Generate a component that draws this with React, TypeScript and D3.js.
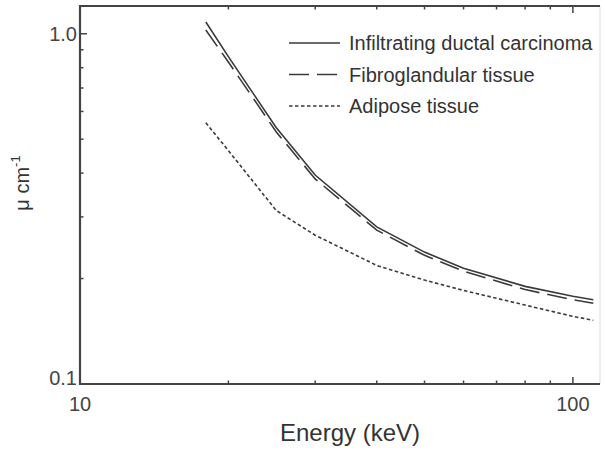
import React from "react";
import { scaleLog, line as d3line, curveLinear } from "d3";

const energies = [18, 20, 25, 30, 40, 50, 60, 80, 100, 110];
const carcinoma = [1.08, 0.86, 0.54, 0.395, 0.281, 0.238, 0.214, 0.19, 0.178, 0.174];
const fibroglandular = [1.025, 0.83, 0.525, 0.385, 0.275, 0.233, 0.21, 0.186, 0.174, 0.17];
const adipose = [0.557, 0.464, 0.313, 0.266, 0.218, 0.198, 0.185, 0.168, 0.156, 0.152];

const seriesNames = ["Infiltrating ductal carcinoma", "Fibroglandular tissue", "Adipose tissue"];
const xMinorTicks = [20, 30, 40, 50, 60, 70, 80, 90];
const yMinorTicks = [0.2, 0.3, 0.4, 0.5, 0.6, 0.7, 0.8, 0.9];

const W = 605;
const H = 451;
const left = 80;
const right = 600;
const top = 6;
const bottom = 384;
const ink = "#3a3a3a";
const font = "'Liberation Sans', Arial, sans-serif";

export default function App() {
  const x = scaleLog().domain([10, 113.5]).range([left, right]);
  const y = scaleLog().domain([0.1, 1.2]).range([bottom, top]);

  const line = d3line<number>()
    .x((_, i) => x(energies[i]))
    .y((v) => y(v))
    .curve(curveLinear);

  const series = [
    { name: seriesNames[0], values: carcinoma, dash: undefined },
    { name: seriesNames[1], values: fibroglandular, dash: "20,8" },
    { name: seriesNames[2], values: adipose, dash: "3.5,2.5" },
  ];

  return (
    <svg
      width={W}
      height={H}
      style={{ position: "absolute", left: 0, top: 0, background: "#fff" }}
      fontFamily={font}
    >
      {/* curves */}
      {series.map((s) => (
        <path
          key={s.name}
          d={line(s.values) ?? undefined}
          fill="none"
          stroke={ink}
          strokeWidth={1.6}
          strokeDasharray={s.dash}
        />
      ))}

      {/* frame */}
      <line x1={right} y1={top} x2={right} y2={bottom} stroke="#ddd" strokeWidth={1} />
      <path
        d={`M${right},${top}H${left}V${bottom}H${right}`}
        fill="none"
        stroke="#444"
        strokeWidth={2.2}
      />

      {/* x ticks, bottom and top */}
      {[...xMinorTicks, 100].map((t) => {
        const len = t === 100 ? 7 : 3.5;
        return (
          <g key={"x" + t}>
            <line x1={x(t)} x2={x(t)} y1={bottom} y2={bottom - len} stroke="#444" strokeWidth={1.5} />
            <line x1={x(t)} x2={x(t)} y1={top} y2={top + len} stroke="#444" strokeWidth={1.5} />
          </g>
        );
      })}

      {/* y ticks */}
      {[...yMinorTicks, 1].map((t) => {
        const len = t === 1 ? 7 : 3.5;
        return (
          <line key={"y" + t} x1={left} x2={left + len} y1={y(t)} y2={y(t)} stroke="#444" strokeWidth={1.5} />
        );
      })}

      {/* tick labels */}
      <g fill="#444" fontSize={20}>
        <text x={left - 3} y={y(1)} textAnchor="end" dominantBaseline="central">1.0</text>
        <text x={left - 3} y={y(0.1) - 6} textAnchor="end" dominantBaseline="central">0.1</text>
        <text x={x(10)} y={bottom + 27} textAnchor="middle">10</text>
        <text x={x(100)} y={bottom + 27} textAnchor="middle">100</text>
      </g>

      {/* axis titles */}
      <text x={350} y={441} textAnchor="middle" fontSize={24} fill="#333">Energy (keV)</text>
      <text
        transform={`translate(29,${183}) rotate(-90)`}
        textAnchor="middle"
        fontSize={20}
        fill="#333"
      >
        μ cm<tspan dy={-9} fontSize={13}>-1</tspan>
      </text>

      {/* legend */}
      {series.map((s, i) => {
        const ly = 43 + i * 31.5;
        return (
          <g key={"lg" + s.name}>
            <line x1={289} x2={340} y1={ly} y2={ly} stroke={ink} strokeWidth={1.6} strokeDasharray={s.dash} />
            <text x={349} y={ly} dominantBaseline="central" fontSize={20} fill="#333">
              {s.name}
            </text>
          </g>
        );
      })}
    </svg>
  );
}
